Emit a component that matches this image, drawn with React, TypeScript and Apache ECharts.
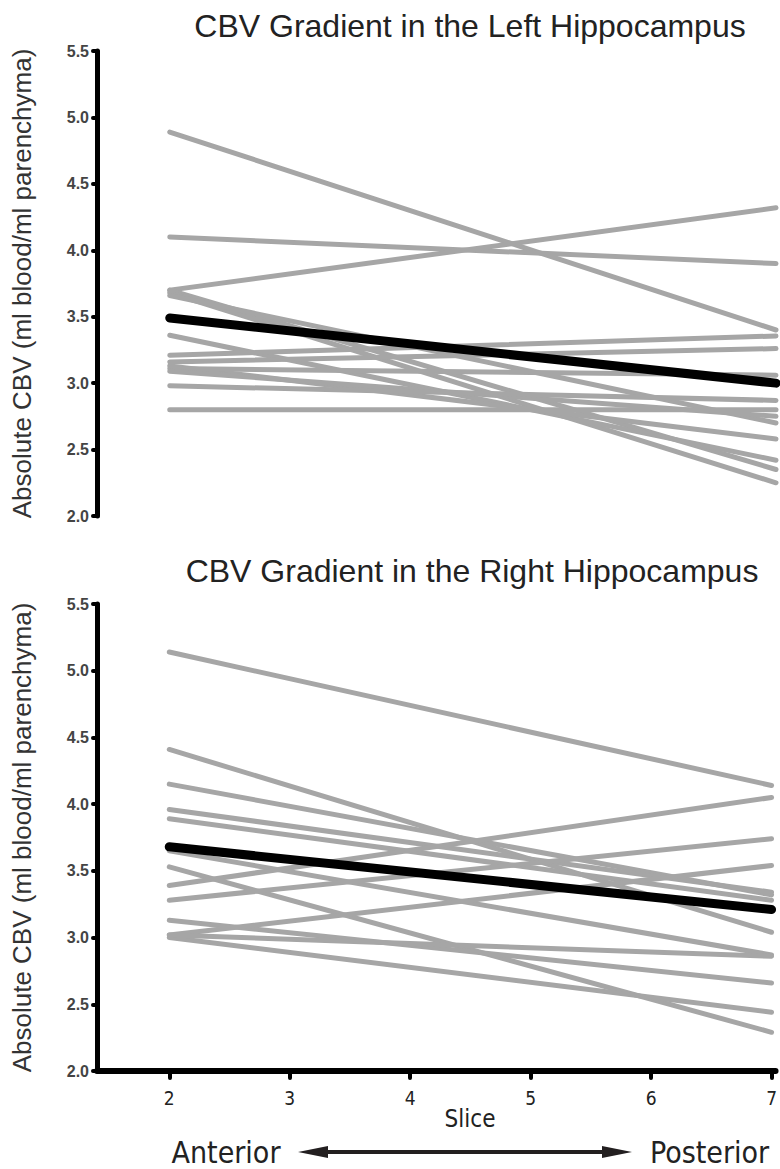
import React, { useEffect, useRef } from "react";
import * as echarts from "echarts";

// Slice positions measured (anterior → posterior)
const slices = [2, 7];
const sliceTicks = [2, 3, 4, 5, 6, 7];

// Left hippocampus: per-subject CBV at slice 2 and slice 7
const leftStart = [4.89, 4.10, 3.70, 3.70, 3.68, 3.66, 3.36, 3.21, 3.16, 3.13, 3.11, 3.09, 2.98, 2.80];
const leftEnd = [3.40, 3.90, 4.32, 2.35, 2.25, 2.70, 2.42, 3.355, 3.26, 2.58, 3.06, 2.75, 2.87, 2.80];
const leftMean = [3.49, 3.0];

// Right hippocampus: per-subject CBV at slice 2 and slice 7
const rightStart = [5.14, 4.41, 4.15, 3.96, 3.89, 3.65, 3.53, 3.39, 3.28, 3.13, 3.02, 3.00, 3.02];
const rightEnd = [4.14, 3.04, 3.32, 3.34, 3.28, 2.87, 2.29, 4.05, 3.74, 2.66, 3.54, 2.44, 2.86];
const rightMean = [3.68, 3.21];

const yTicks = { min: 2, max: 5.5, interval: 0.5 };

const GRAY = "#a6a6a6";
const NARROW = "'Liberation Sans Narrow', 'DejaVu Sans Condensed', 'Liberation Sans', sans-serif";
const SANS = "'Liberation Sans', Arial, sans-serif";

function subjectSeries(starts: number[], ends: number[], mean: number[], axisIndex: number) {
  const out: any[] = starts.map((s, i) => ({
    type: "line",
    xAxisIndex: axisIndex,
    yAxisIndex: axisIndex,
    data: [
      [slices[0], s],
      [slices[1], ends[i]],
    ],
    symbol: "none",
    silent: true,
    lineStyle: { color: GRAY, width: 5, cap: "round" },
  }));
  out.push({
    type: "line",
    xAxisIndex: axisIndex,
    yAxisIndex: axisIndex,
    data: [
      [slices[0], mean[0]],
      [slices[1], mean[1]],
    ],
    symbol: "none",
    silent: true,
    lineStyle: { color: "#000", width: 9, cap: "round" },
  });
  return out;
}

function yAxis(gridIndex: number) {
  return {
    type: "value",
    gridIndex,
    min: yTicks.min,
    max: yTicks.max,
    interval: yTicks.interval,
    name: "Absolute CBV (ml blood/ml parenchyma)",
    nameLocation: "middle",
    nameRotate: 90,
    nameGap: 62,
    nameTextStyle: { fontFamily: SANS, fontSize: 26, color: "#333" },
    splitLine: { show: false },
    axisLine: { show: true, lineStyle: { color: "#000", width: 5, cap: "round" } },
    axisTick: { show: true, length: 4, lineStyle: { color: "#000", width: 4, cap: "round" } },
    axisLabel: {
      show: true,
      margin: 8,
      fontFamily: SANS,
      fontSize: 16,
      fontWeight: "bold",
      color: "#444",
      formatter: (v: number) => v.toFixed(1),
    },
  };
}

function xAxis(gridIndex: number, visible: boolean) {
  return {
    type: "value",
    gridIndex,
    min: 1.4,
    max: 7.033,
    show: visible,
    splitLine: { show: false },
    axisLine: { show: visible, onZero: false, lineStyle: { color: "#000", width: 6 } },
    axisTick: {
      show: visible,
      customValues: sliceTicks,
      inside: false,
      length: 7,
      lineStyle: { color: "#000", width: 4, cap: "round" },
    },
    axisLabel: {
      show: visible,
      customValues: sliceTicks,
      margin: 17,
      fontFamily: NARROW,
      fontSize: 19,
      color: "#222",
    },
  };
}

function arrowGraphics() {
  const y = 1152;
  const x0 = 298;
  const x1 = 632;
  return [
    { type: "line", shape: { x1: x0 + 20, y1: y, x2: x1 - 20, y2: y }, style: { stroke: "#231f20", lineWidth: 4 } },
    { type: "polygon", shape: { points: [[x0, y], [x0 + 30, y - 6], [x0 + 30, y + 6]] }, style: { fill: "#231f20" } },
    { type: "polygon", shape: { points: [[x1, y], [x1 - 30, y - 6], [x1 - 30, y + 6]] }, style: { fill: "#231f20" } },
  ];
}

export default function App() {
  const ref = useRef<HTMLDivElement>(null);

  useEffect(() => {
    if (!ref.current) return;
    const chart = echarts.init(ref.current, null, { renderer: "svg" });
    chart.setOption({
      animation: false,
      backgroundColor: "#fff",
      grid: [
        { left: 97, top: 51, width: 683, height: 465 },
        { left: 97, top: 604, width: 683, height: 467 },
      ],
      xAxis: [xAxis(0, false), xAxis(1, true)],
      yAxis: [yAxis(0), yAxis(1)],
      series: [
        ...subjectSeries(leftStart, leftEnd, leftMean, 0),
        ...subjectSeries(rightStart, rightEnd, rightMean, 1),
      ],
      graphic: [
        {
          type: "text",
          x: 470,
          y: 26,
          style: {
            text: "CBV Gradient in the Left Hippocampus",
            fontFamily: SANS,
            fontSize: 32,
            fill: "#222",
            align: "center",
            verticalAlign: "middle",
          },
        },
        {
          type: "text",
          x: 472,
          y: 571,
          style: {
            text: "CBV Gradient in the Right Hippocampus",
            fontFamily: SANS,
            fontSize: 32,
            fill: "#222",
            align: "center",
            verticalAlign: "middle",
          },
        },
        {
          type: "text",
          x: 470,
          y: 1119,
          style: { text: "Slice", fontFamily: NARROW, fontSize: 24, fill: "#222", align: "center", verticalAlign: "middle" },
        },
        {
          type: "text",
          x: 226,
          y: 1152,
          style: { text: "Anterior", fontFamily: NARROW, fontSize: 30, fill: "#222", align: "center", verticalAlign: "middle" },
        },
        {
          type: "text",
          x: 650,
          y: 1152,
          style: { text: "Posterior", fontFamily: NARROW, fontSize: 30, fill: "#222", align: "left", verticalAlign: "middle" },
        },
        ...arrowGraphics(),
      ],
    });
    return () => chart.dispose();
  }, []);

  return <div ref={ref} style={{ position: "absolute", left: 0, top: 0, width: 780, height: 1169 }} />;
}
